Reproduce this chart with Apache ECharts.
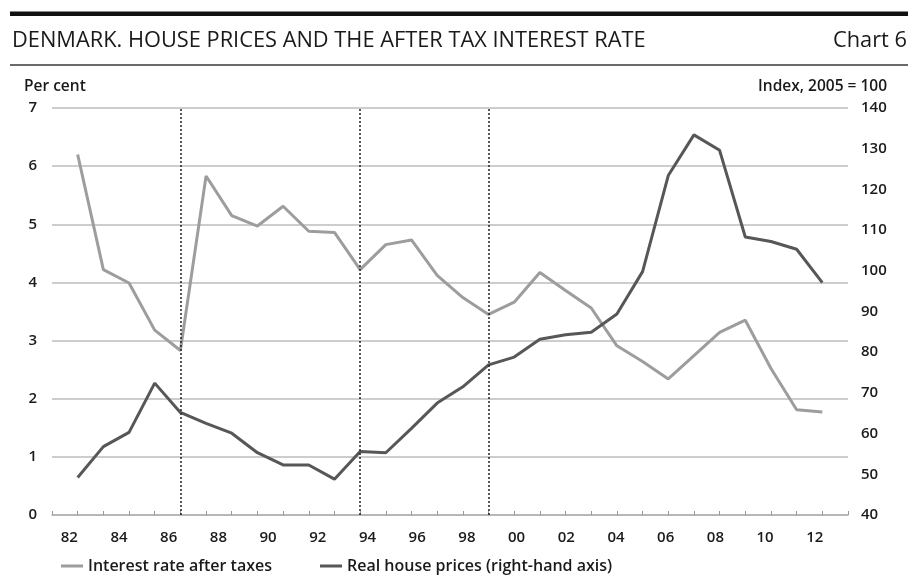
<!DOCTYPE html>
<html>
<head>
<meta charset="utf-8">
<script src="https://cdn.jsdelivr.net/npm/echarts@6/dist/echarts.min.js"></script>
<style>
html,body{margin:0;padding:0;background:#fff;}
#chart{width:908px;height:582px;}
</style>
</head>
<body>
<div id="chart"></div>
<script>
// Observation index along the chart (30 annual observations)
const obsIndex = [1,2,3,4,5,6,7,8,9,10,11,12,13,14,15,16,17,18,19,20,21,22,23,24,25,26,27,28,29,30];
// Interest rate after taxes, per cent (left axis)
const interestRate = [6.20,4.22,3.99,3.18,2.83,5.83,5.15,4.97,5.31,4.88,4.86,4.22,4.65,4.73,4.12,3.74,3.45,3.66,4.17,3.86,3.56,2.91,2.64,2.34,2.74,3.14,3.35,2.52,1.81,1.77];
// Real house prices, index 2005 = 100 (right axis)
const housePrices = [49.2,56.8,60.3,72.4,65.2,62.5,60.1,55.3,52.3,52.3,48.8,55.6,55.3,61.3,67.5,71.5,76.9,78.8,83.2,84.3,84.9,89.4,99.8,123.4,133.4,129.6,108.3,107.2,105.3,97.1];
// Positions of the dotted vertical lines (observation index)
const markers = [5, 12, 17];
// Year labels shown under the axis
const yearLabels = [1982,1984,1986,1988,1990,1992,1994,1996,1998,2000,2002,2004,2006,2008,2010,2012];

const FONT = '"Open Sans", "Noto Sans", sans-serif';
const TXT = '#1a1a1a';

const chart = echarts.init(document.getElementById('chart'), null, {renderer: 'canvas'});

const option = {
  backgroundColor: '#fff',
  animation: false,
  textStyle: {fontFamily: FONT},
  grid: {left: 52, right: 60, top: 108, bottom: 67, containLabel: false},
  graphic: [
    {type: 'rect', shape: {x: 10, y: 11.5, width: 898, height: 4.5}, style: {fill: '#111'}},
    {type: 'rect', shape: {x: 10, y: 64, width: 898, height: 2}, style: {fill: '#6a6a6a'}},
    {type: 'text', style: {text: 'DENMARK. HOUSE PRICES AND THE AFTER TAX INTEREST RATE', x: 12, y: 41, textVerticalAlign: 'middle', font: '500 21.8px ' + FONT, fill: TXT}},
    {type: 'text', style: {text: 'Chart 6', x: 907, y: 41, textAlign: 'right', textVerticalAlign: 'middle', font: '500 21.8px ' + FONT, fill: TXT}},
    {type: 'text', style: {text: 'Per cent', x: 24, y: 86.5, textVerticalAlign: 'middle', font: '600 15.5px ' + FONT, fill: TXT}},
    {type: 'text', style: {text: 'Index, 2005 = 100', x: 887, y: 86.5, textAlign: 'right', textVerticalAlign: 'middle', font: '600 15.5px ' + FONT, fill: TXT}}
  ],
  legend: [
    {
      data: ['Interest rate after taxes'], left: 56, top: 553,
      icon: 'rect', itemWidth: 22, itemHeight: 3, itemGap: 0,
      textStyle: {fontFamily: FONT, fontSize: 16, fontWeight: 600, color: TXT}
    },
    {
      data: ['Real house prices (right-hand axis)'], left: 315, top: 553,
      icon: 'rect', itemWidth: 22, itemHeight: 3, itemGap: 0,
      textStyle: {fontFamily: FONT, fontSize: 16, fontWeight: 600, color: TXT}
    }
  ],
  xAxis: [
    {
      type: 'value', min: 0, max: 31, interval: 1,
      axisLine: {show: true, lineStyle: {color: '#b0b0b0', width: 1.5}},
      axisTick: {show: true, inside: true, length: 4, lineStyle: {color: '#9a9a9a', width: 1}},
      axisLabel: {show: false},
      splitLine: {show: false}
    },
    {
      type: 'value', min: 1981.304, max: 2013.336, position: 'bottom',
      axisLine: {show: false}, axisTick: {show: false}, splitLine: {show: false},
      axisLabel: {
        show: true, customValues: yearLabels, margin: 15,
        fontFamily: FONT, fontSize: 15, fontWeight: 600, color: TXT,
        formatter: v => String(Math.round(v) % 100).padStart(2, '0')
      }
    }
  ],
  yAxis: [
    {
      type: 'value', min: 0, max: 7, interval: 1, position: 'left',
      axisLine: {show: false}, axisTick: {show: false},
      axisLabel: {margin: 15, fontFamily: FONT, fontSize: 15, fontWeight: 600, color: TXT},
      splitLine: {show: true, lineStyle: {color: '#bdbdbd', width: 1.5}}
    },
    {
      type: 'value', min: 40, max: 140, interval: 10, position: 'right',
      axisLine: {show: false}, axisTick: {show: false},
      axisLabel: {margin: 13, fontFamily: FONT, fontSize: 15, fontWeight: 600, color: TXT},
      splitLine: {show: false}
    }
  ],
  series: [
    {
      name: 'Interest rate after taxes', type: 'line', xAxisIndex: 0, yAxisIndex: 0,
      data: obsIndex.map((x, i) => [x, interestRate[i]]),
      showSymbol: false, symbol: 'none',
      lineStyle: {color: '#9d9d9d', width: 3},
      itemStyle: {color: '#9d9d9d'},
      z: 3,
      markLine: {
        silent: true, symbol: 'none', label: {show: false},
        lineStyle: {color: '#222', type: [2, 2], width: 1.5},
        data: markers.map(m => ({xAxis: m}))
      }
    },
    {
      name: 'Real house prices (right-hand axis)', type: 'line', xAxisIndex: 0, yAxisIndex: 1,
      data: obsIndex.map((x, i) => [x, housePrices[i]]),
      showSymbol: false, symbol: 'none',
      lineStyle: {color: '#575757', width: 3},
      itemStyle: {color: '#575757'},
      z: 4
    }
  ]
};
chart.setOption(option);
</script>
</body>
</html>
